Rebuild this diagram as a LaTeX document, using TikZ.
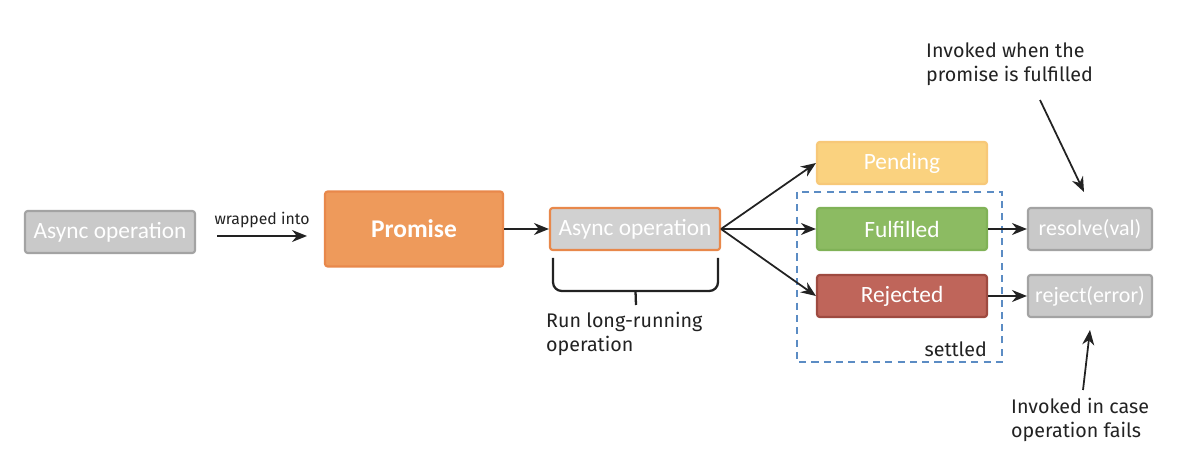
\documentclass[tikz,border=0pt]{standalone}
\usepackage{fontspec}
\setmainfont{Carlito}
\newfontfamily\handfont{Fira Sans}
\usetikzlibrary{arrows.meta,positioning,calc}
\definecolor{opfill}{HTML}{C9C9C9}
\definecolor{opline}{HTML}{A3A3A3}
\definecolor{promfill}{HTML}{EE9A5B}
\definecolor{promline}{HTML}{E8884B}
\definecolor{pendfill}{HTML}{FAD27F}
\definecolor{pendline}{HTML}{F7C878}
\definecolor{fulfill}{HTML}{8CBB62}
\definecolor{fulline}{HTML}{80B257}
\definecolor{rejfill}{HTML}{BF655A}
\definecolor{rejline}{HTML}{9E4A40}
\definecolor{settline}{HTML}{5B8CC4}
\definecolor{frameline}{HTML}{222222}

\begin{document}
\begin{tikzpicture}[x=0.02cm,y=-0.02cm,
 box/.style={draw,line width=1.2pt,rounded corners=1.5pt,minimum width=3.4cm,minimum height=0.84cm,align=center,text=white,font=\fontsize{13.3}{15}\selectfont},
 opbox/.style={box,draw=opline,fill=opfill},
 note/.style={font=\handfont\fontsize{11.2}{13.5}\selectfont,align=left,text=frameline},
 arr/.style={-{Stealth[length=3mm,width=2.4mm]},line width=1pt,frameline}]
\useasboundingbox (0,0) rectangle (1184,459);
\node[opbox] (src) at (110,232) {Async operation};
\node[box,draw=promline,fill=promfill,minimum width=3.56cm,minimum height=1.5cm,font=\fontsize{14.5}{17}\selectfont\bfseries] (prom) at (414,229) {Promise};
\node[opbox,draw=promline,fill=opfill!85!white] (op) at (635,229) {Async operation};
\node[box,draw=pendline,fill=pendfill] (pend) at (902,163) {Pending};
\node[box,draw=fulline,fill=fulfill] (ful) at (902,229) {Fulfilled};
\node[box,draw=rejline,fill=rejfill] (rej) at (902,296) {Rejected};
\node[opbox,minimum width=2.48cm,font=\fontsize{12.5}{14}\selectfont] (res) at (1090,229) {resolve(val)};
\node[opbox,minimum width=2.48cm,font=\fontsize{12.5}{14}\selectfont] (rjt) at (1090,296) {reject(error)};
% settled group
\draw[settline,dashed,line width=1pt,dash pattern=on 4pt off 3pt] (797,192) rectangle (1002,362);
\node[note,anchor=south east] (settled) at (993,363) {settled};
% arrows
\coordinate (w1) at (217,236);
\coordinate (w2) at (307,236);
\draw[arr] (w1) -- (w2) node[midway,above=1pt,note,font=\handfont\fontsize{9}{11}\selectfont] (wrap) {wrapped into};
\draw[arr] (prom) -- (op);
\draw[arr] (op.east) -- (pend.west);
\draw[arr] (op.east) -- (ful.west);
\draw[arr] (op.east) -- (rej.west);
\draw[arr] (ful) -- (res);
\draw[arr] (rej) -- (rjt);
% bracket under the operation
\coordinate (bl) at (553,258);
\coordinate (br) at (718,258);
\coordinate (btip) at (636,305);
\draw[line width=1.3pt,frameline,rounded corners=5pt] (bl) |- ($(bl)!.5!(br)+(0,33)$) -| (br);
\draw[line width=1.3pt,frameline] ($(bl)!.5!(br)+(0,33)$) -- (btip);
\node[note,anchor=north west] (runop) at (540,306) {Run long-running\\operation};
% remarks
\node[note,anchor=north west] (inv1) at (920,37) {Invoked when the\\promise is fulfilled};
\node[note,anchor=north west] (inv2) at (1005,392) {Invoked in case\\operation fails};
\coordinate (a1) at (1040,100);
\coordinate (a2) at (1084,192);
\coordinate (b1) at (1083,390);
\coordinate (b2) at (1090,330);
\draw[arr] (a1) -- (a2);
\draw[arr] (b1) -- (b2);
\end{tikzpicture}
\end{document}
